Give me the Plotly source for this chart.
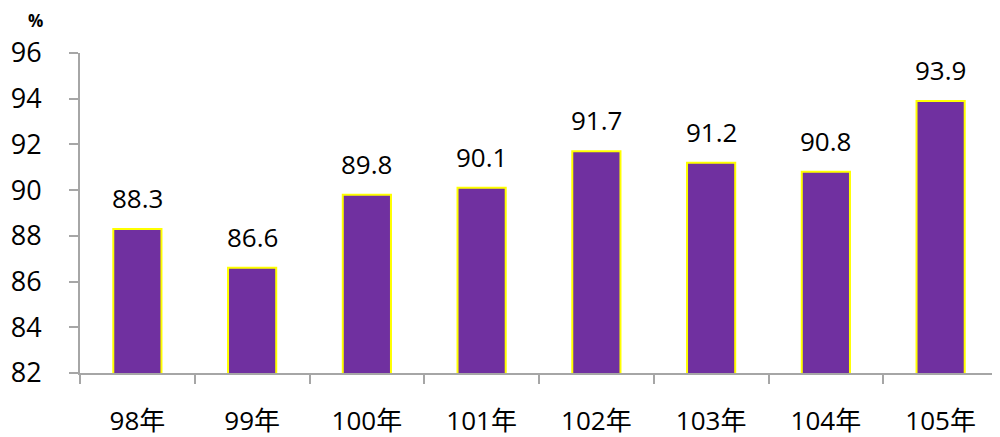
import plotly.graph_objects as go

categories = ["98年", "99年", "100年", "101年", "102年", "103年", "104年", "105年"]
values = [88.3, 86.6, 89.8, 90.1, 91.7, 91.2, 90.8, 93.9]
y_ticks = [82, 84, 86, 88, 90, 92, 94, 96]

font_family = "Open Sans, Noto Sans CJK TC, sans-serif"

fig = go.Figure(go.Bar(
    x=categories,
    y=values,
    marker=dict(color="#7030A0", line=dict(color="#FFFF00", width=2)),
    hoverinfo="x+y",
))

annotations = [
    dict(x=c, y=v, xref="x", yref="y", text=f"{v:.1f}", showarrow=False,
         yanchor="bottom", yshift=11,
         font=dict(size=26, color="#000000", family=font_family))
    for c, v in zip(categories, values)
]
annotations.append(dict(text="<b>%</b>", xref="paper", yref="paper", x=-0.048, y=1.103,
                        xanchor="center", yanchor="middle", showarrow=False,
                        font=dict(size=17, color="#000000", family=font_family)))

fig.update_layout(
    width=992, height=429,
    margin=dict(l=72, r=2, t=45, b=64, autoexpand=False),
    paper_bgcolor="white", plot_bgcolor="white",
    bargap=0.58,
    showlegend=False,
    font=dict(family=font_family, color="#000000"),
    annotations=annotations,
)

fig.update_xaxes(
    automargin=False,
    showline=True, linecolor="#A6A6A6", linewidth=2,
    ticks="outside", ticklen=9, tickcolor="#A6A6A6", tickwidth=2,
    tickson="boundaries", ticklabelstandoff=24,
    tickfont=dict(size=26, color="#000000", family=font_family),
    showgrid=False,
)
fig.update_yaxes(
    automargin=False,
    range=[82, 96], tickvals=y_ticks,
    showline=True, linecolor="#A6A6A6", linewidth=2,
    ticks="outside", ticklen=9, tickcolor="#A6A6A6", tickwidth=2,
    ticklabelstandoff=22,
    tickfont=dict(size=27, color="#000000", family=font_family),
    showgrid=False, zeroline=False,
)

fig.write_html("out.html")
